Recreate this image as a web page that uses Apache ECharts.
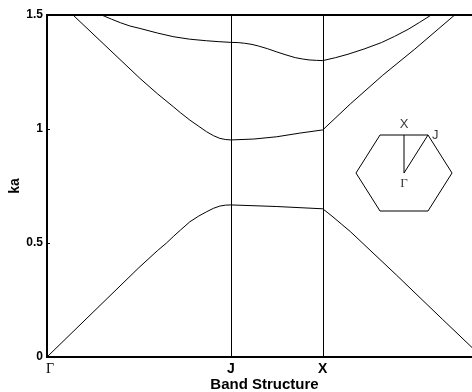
<!DOCTYPE html>
<html>
<head>
<meta charset="utf-8">
<script src="https://cdn.jsdelivr.net/npm/echarts@6/dist/echarts.min.js"></script>
<style>
  html, body { margin: 0; padding: 0; background: #fff; }
  #main { width: 472px; height: 392px; }
</style>
</head>
<body>
<div id="main"></div>
<script>
// k-path positions of the symmetry points (Γ-J = 2, J-X = 1, X-Γ = √3)
var kTicks = [0, 2, 3, 4.732];
var kLabels = ['Γ', 'J', 'X', 'Γ'];
var yTicks = [0, 0.5, 1, 1.5];

// band 1
var band1GJ = [[0, 0], [0.5, 0.196], [1.0, 0.392], [1.2, 0.466], [1.3, 0.5], [1.373, 0.528], [1.45, 0.556], [1.554, 0.593],
    [1.65, 0.618], [1.736, 0.637], [1.81, 0.652], [1.88, 0.662], [1.94, 0.666], [2, 0.667]];
var band1JX = [[2, 0.667], [2.5, 0.66], [3, 0.65]];
var band1XG = [[3, 0.65], [3.1, 0.618], [3.2, 0.584], [3.3, 0.55], [3.8, 0.36], [4.3, 0.166], [4.732, 0]];
// band 2
var band2GJ = [[0, 1.606], [0.283, 1.5], [1.011, 1.222], [1.2, 1.155], [1.373, 1.098], [1.45, 1.072], [1.554, 1.039],
    [1.65, 1.012], [1.736, 0.988], [1.81, 0.971], [1.88, 0.959], [1.94, 0.954], [2, 0.952]];
var band2JX = [[2, 0.952], [2.25, 0.956], [2.5, 0.966], [2.75, 0.982], [3, 0.996]];
var band2XG = [[3, 0.996], [3.3, 1.11], [3.65, 1.235], [4.0, 1.35], [4.435, 1.5], [4.732, 1.6]];
// band 3
var band3GJ = [[0, 1.62], [0.15, 1.585], [0.3, 1.555], [0.45, 1.525], [0.594, 1.5], [0.7, 1.482], [0.8, 1.466], [0.9, 1.452],
    [1.011, 1.441], [1.2, 1.421], [1.373, 1.405], [1.55, 1.394], [1.736, 1.387], [1.87, 1.383], [2, 1.38]];
var band3JX = [[2, 1.38], [2.08, 1.379], [2.15, 1.376], [2.23, 1.371], [2.3, 1.364], [2.4, 1.352], [2.5, 1.338],
    [2.6, 1.325], [2.7, 1.313], [2.78, 1.307], [2.85, 1.303], [2.93, 1.301], [3, 1.3]];
var band3XG = [[3, 1.3], [3.14, 1.313], [3.275, 1.328], [3.45, 1.351], [3.638, 1.379], [3.78, 1.406], [3.928, 1.437],
    [4.05, 1.467], [4.18, 1.5], [4.5, 1.59]];

// inset: hexagonal Brillouin zone with the path
var hexagon = [[-1, 0], [-0.5, 0.866], [0.5, 0.866], [1, 0], [0.5, -0.866], [-0.5, -0.866], [-1, 0]];
var pathGX = [[0, 0], [0, 0.866]];
var pathGJ = [[0, 0], [0.5, 0.866]];
var insetLabels = [
    { name: 'X', value: [0, 0.866], pos: 'top' },
    { name: 'J', value: [0.5, 0.866], pos: 'right' },
    { name: 'Γ', value: [0, 0], pos: 'bottom' }
];

var sans = "'Liberation Sans', Arial, Helvetica, sans-serif";
var serif = "'Liberation Serif', 'Times New Roman', serif";

function bandLine(data) {
    return {
        type: 'line',
        xAxisIndex: 0,
        yAxisIndex: 0,
        data: data,
        showSymbol: false,
        smooth: false,
        clip: true,
        silent: true,
        lineStyle: { color: '#000', width: 1 }
    };
}

function insetLine(data) {
    return {
        type: 'line',
        xAxisIndex: 1,
        yAxisIndex: 1,
        data: data,
        showSymbol: false,
        clip: false,
        silent: true,
        lineStyle: { color: '#000', width: 1 }
    };
}

var bands = [band1GJ, band1JX, band1XG, band2GJ, band2JX, band2XG, band3GJ, band3JX, band3XG];
var series = bands.map(bandLine);

// J and X vertical lines
series[0].markLine = {
    silent: true,
    symbol: 'none',
    label: { show: false },
    lineStyle: { color: '#000', width: 1, type: 'solid' },
    data: [{ xAxis: kTicks[1] }, { xAxis: kTicks[2] }]
};

series.push(insetLine(hexagon));
series.push(insetLine(pathGX));
series.push(insetLine(pathGJ));
series.push({
    type: 'scatter',
    xAxisIndex: 1,
    yAxisIndex: 1,
    symbolSize: 0,
    silent: true,
    data: insetLabels.map(function (d) {
        var isGamma = d.name === 'Γ';
        return {
            name: d.name,
            value: d.value,
            label: {
                show: true,
                position: d.pos,
                distance: 4,
                formatter: '{b}',
                color: '#000',
                fontSize: 13,
                fontFamily: isGamma ? serif : sans
            }
        };
    })
});

var chart = echarts.init(document.getElementById('main'));
chart.setOption({
    animation: false,
    backgroundColor: '#fff',
    grid: [
        { left: 47, top: 15, width: 435, height: 342, outerBoundsMode: 'none', containLabel: false,
          show: true, borderColor: '#000', borderWidth: 2 },
        { left: 356, top: 135, width: 96, height: 76, outerBoundsMode: 'none', containLabel: false }
    ],
    xAxis: [
        {
            type: 'value',
            gridIndex: 0,
            min: 0,
            max: kTicks[3],
            name: 'Band Structure',
            nameLocation: 'middle',
            nameGap: 20,
            nameMoveOverlap: false,
            nameTextStyle: { color: '#000', fontFamily: sans, fontWeight: 'bold', fontSize: 15 },
            axisLine: { show: true, lineStyle: { color: '#000', width: 2 } },
            axisTick: { show: false },
            splitLine: { show: false },
            axisLabel: {
                customValues: kTicks,
                margin: 5,
                color: '#000',
                fontFamily: sans,
                fontWeight: 'bold',
                fontSize: 14,
                formatter: function (v) {
                    var i = kTicks.indexOf(v);
                    var s = i >= 0 ? kLabels[i] : '';
                    return s === 'Γ' ? '{g|Γ}' : s;
                },
                rich: {
                    g: { fontFamily: serif, fontWeight: 'normal', fontSize: 14, color: '#000', padding: [0, 0, 0, 6] }
                }
            }
        },
        { type: 'value', gridIndex: 1, min: -1, max: 1, show: false }
    ],
    yAxis: [
        {
            type: 'value',
            gridIndex: 0,
            min: yTicks[0],
            max: yTicks[yTicks.length - 1],
            interval: 0.5,
            name: 'ka',
            nameLocation: 'middle',
            nameGap: 25,
            nameMoveOverlap: false,
            nameTextStyle: { color: '#000', fontFamily: sans, fontWeight: 'bold', fontSize: 14 },
            axisLine: { show: true, lineStyle: { color: '#000', width: 2 } },
            axisTick: { show: true, inside: true, length: 3, lineStyle: { color: '#000', width: 1 } },
            splitLine: { show: false },
            axisLabel: { margin: 4, color: '#000', fontFamily: sans, fontWeight: 'bold', fontSize: 12 }
        },
        { type: 'value', gridIndex: 1, min: -0.866, max: 0.866, show: false }
    ],
    series: series
});
</script>
</body>
</html>
